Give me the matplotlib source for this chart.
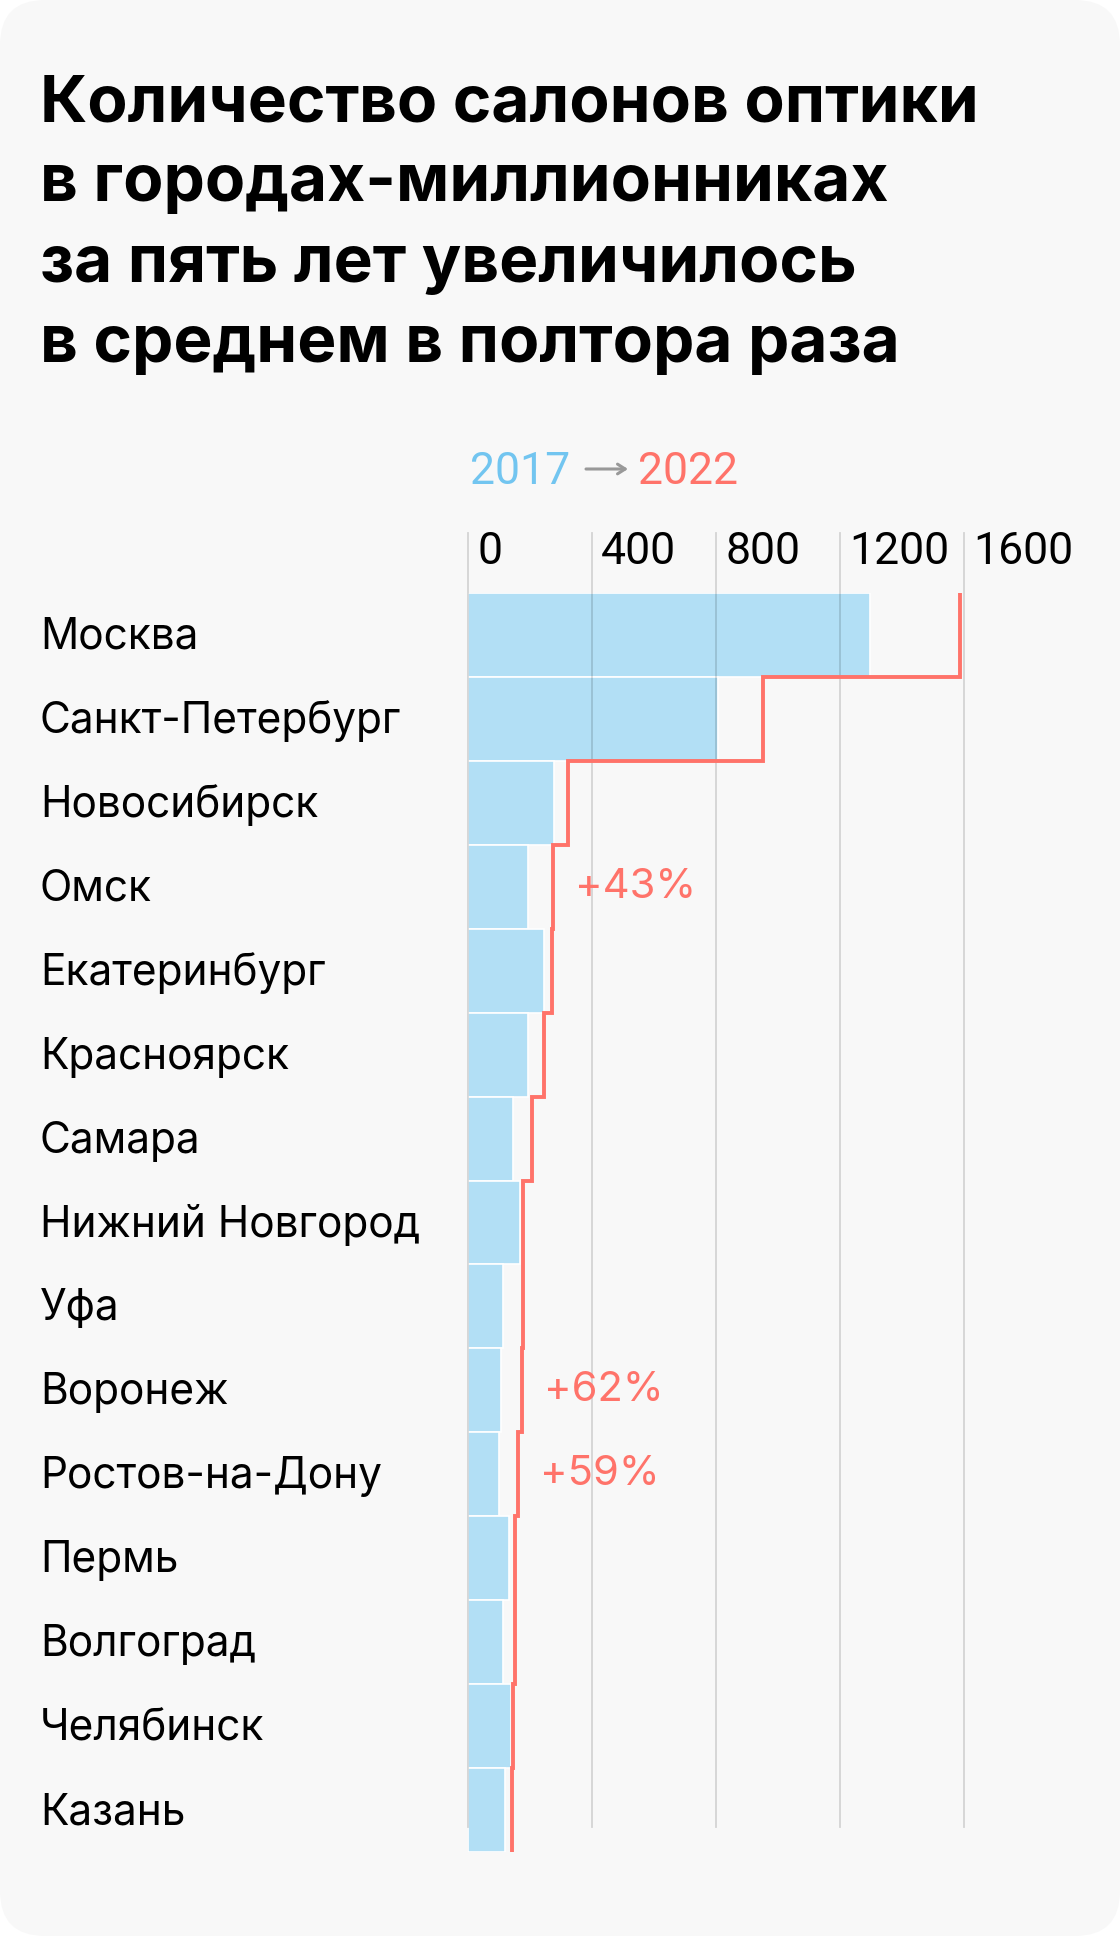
import numpy as np
import matplotlib
matplotlib.use("Agg")
import matplotlib.pyplot as plt
from matplotlib.patches import FancyBboxPatch
from matplotlib.transforms import IdentityTransform, blended_transform_factory, offset_copy

# data
cities = ["Москва", "Санкт-Петербург", "Новосибирск", "Омск", "Екатеринбург",
          "Красноярск", "Самара", "Нижний Новгород", "Уфа", "Воронеж",
          "Ростов-на-Дону", "Пермь", "Волгоград", "Челябинск", "Казань"]
salons_2017 = [1298, 807, 276, 192, 244, 192, 146, 166, 113, 107, 101, 132, 113, 139, 120]
salons_2022 = [1587, 952, 323, 275, 272, 245, 207, 178, 178, 173, 161, 152, 152, 146, 140]
x_ticks = [0, 400, 800, 1200, 1600]
note_cities = ["Омск", "Воронеж", "Ростов-на-Дону"]
note_labels = ["+43%", "+62%", "+59%"]

title_lines = ["Количество салонов оптики",
               "в городах-миллионниках",
               "за пять лет увеличилось",
               "в среднем в полтора раза"]

W, H = 1120, 1936
BG = "#f8f8f8"
BLUE = "#b2dff5"
BLUE_TXT = "#72c5f0"
RED = "#ff736a"

fig = plt.figure(figsize=(W / 100, H / 100), dpi=100)
fig.patch.set_facecolor("white")

# rounded card behind everything
card = FancyBboxPatch((0, 0), W, H, boxstyle="round,pad=0,rounding_size=45",
                      transform=IdentityTransform(), facecolor=BG, edgecolor="none")
card.set_zorder(-10)
fig.add_artist(card)

# title
for i, line in enumerate(title_lines):
    fig.text(40 / W, 1 - (121 + 80.3 * i) / H, line, family="Inter", weight="bold",
             fontsize=47.3, color="black", va="baseline", ha="left")

# legend 2017 -> 2022
ly = 1 - 484 / H
fig.text(470 / W, ly, "2017", family="Roboto", fontsize=32, color=BLUE_TXT, va="baseline")
fig.text(638 / W, ly, "2022", family="Roboto", fontsize=32, color=RED, va="baseline")

# chart area
top_px, bot_px = 593, 1852
ax = fig.add_axes([468.2 / W, 1 - bot_px / H, (963.9 - 468.2) / W, (bot_px - top_px) / H])
ax.set_facecolor("none")
ax.set_xlim(0, 1600)
ax.set_ylim(len(cities) - 0.5, -0.5)
for s in ax.spines.values():
    s.set_visible(False)
ax.set_xticks([])
ax.set_yticks([])

ax.annotate("", xy=(628, H - 469), xytext=(586, H - 469), xycoords="figure pixels",
            textcoords="figure pixels",
            arrowprops=dict(arrowstyle="->,head_length=0.55,head_width=0.35",
                            color="#999999", lw=2.2, shrinkA=0, shrinkB=0))

y = np.arange(len(cities))
ax.barh(y, salons_2017, height=1.0, color=BLUE, edgecolor="white", linewidth=1.2, zorder=2)

# step line for 2022
sx = np.repeat(salons_2022, 2)
sy = np.ravel([[i - 0.5, i + 0.5] for i in y])
ax.plot(sx, sy, color=RED, lw=2.8, solid_joinstyle="miter", solid_capstyle="butt", zorder=4)

# grid lines and top tick labels
span = bot_px - top_px
g_lo = (bot_px - 1827) / span
g_hi = (bot_px - 532.7) / span
for t in x_ticks:
    ax.axvline(t, ymin=g_lo, ymax=g_hi, color="black", alpha=0.14, lw=1.3, zorder=3, clip_on=False)
trans = offset_copy(blended_transform_factory(ax.transData, ax.transAxes), fig=fig, x=9, y=0, units="dots")
for t in x_ticks:
    ax.text(t, (bot_px - 564) / span, str(t), transform=trans, family="Roboto", fontsize=32,
            color="black", va="baseline", ha="left", clip_on=False)

# city labels
lab_trans = blended_transform_factory(fig.transFigure, ax.transData)
for i, c in enumerate(cities):
    ax.text(40 / W, i + 0.167, c, transform=lab_trans, family="Inter", fontsize=30.5,
            color="black", va="baseline", ha="left", clip_on=False)

# percent notes
for c, lbl in zip(note_cities, note_labels):
    i = cities.index(c)
    ax.annotate(lbl, (salons_2022[i], i), xytext=(22, 0), textcoords="offset pixels",
                family="Inter", fontsize=30, color=RED, va="center", ha="left")

fig.savefig("out.png", dpi=100, facecolor=fig.get_facecolor())
